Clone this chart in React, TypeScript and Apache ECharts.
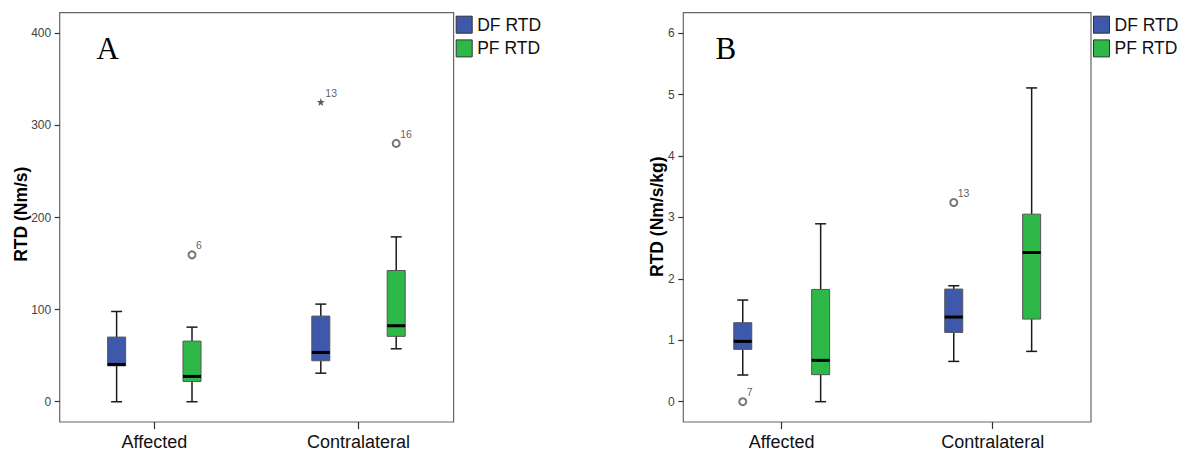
import React, { useEffect, useRef } from 'react';
import * as echarts from 'echarts';

const categories = ['Affected', 'Contralateral'];
const seriesNames = ['DF RTD', 'PF RTD'];
const seriesColors = ['#3e58ac', '#2eb848'];

// Panel A: RTD (Nm/s) — [min, Q1, median, Q3, max] for Affected, Contralateral
const dfRtdAbs = [
  [0, 39, 40.5, 70.2, 98],
  [31, 44.5, 53.5, 93, 106],
];
const pfRtdAbs = [
  [0, 22, 27.5, 65.8, 81],
  [57.5, 71, 82.5, 142.5, 179],
];
// outliers: [category index, series index, value, case label, extreme(1) or not(0)]
const outliersAbs: any[] = [
  [0, 1, 159.5, '6', 0],
  [1, 0, 325.5, '13', 1],
  [1, 1, 280.5, '16', 0],
];
const ticksAbs = [0, 100, 200, 300, 400];

// Panel B: RTD (Nm/s/kg)
const dfRtdNorm = [
  [0.434, 0.852, 0.982, 1.286, 1.655],
  [0.656, 1.128, 1.378, 1.834, 1.888],
];
const pfRtdNorm = [
  [0, 0.44, 0.673, 1.828, 2.897],
  [0.819, 1.345, 2.43, 3.054, 5.11],
];
const outliersNorm: any[] = [
  [0, 0, 0, '7', 0],
  [1, 0, 3.244, '13', 0],
];
const ticksNorm = [0, 1, 2, 3, 4, 5, 6];

const SANS = 'Liberation Sans, Arial, sans-serif';
const SERIF = 'Liberation Serif, Times New Roman, serif';
const GROUP_OFFSET = 0.1846;
const STAR = 'path://M0,-10L2.35,-3.24L9.51,-3.09L3.8,1.24L5.88,8.09L0,4L-5.88,8.09L-3.8,1.24L-9.51,-3.09L-2.35,-3.24Z';

function buildOption() {
  const panels = [
    {
      grid: { left: 59.7, top: 12.7, width: 393.9, height: 409.3 },
      xMin: 0.5367, xMax: 2.4657, yMin: -22, yMax: 422.4,
      ticks: ticksAbs, stats: [dfRtdAbs, pfRtdAbs], outliers: outliersAbs,
      yName: 'RTD (Nm/s)', yNamePos: [20.8, 214.2],
      letter: 'A', letterPos: [96.5, 48.5],
      legendPos: [455.7, 15.7],
    },
    {
      grid: { left: 683.3, top: 12.7, width: 407.7, height: 409.3 },
      xMin: 0.5336, xMax: 2.4659, yMin: -0.331, yMax: 6.335,
      ticks: ticksNorm, stats: [dfRtdNorm, pfRtdNorm], outliers: outliersNorm,
      yName: 'RTD (Nm/s/kg)', yNamePos: [657.2, 216.7],
      letter: 'B', letterPos: [715.5, 48.8],
      legendPos: [1093, 15.7],
    },
  ];

  const grid: any[] = [];
  const xAxis: any[] = [];
  const yAxis: any[] = [];
  const series: any[] = [];
  const legend: any[] = [];
  const graphic: any[] = [];

  panels.forEach((p, pi) => {
    grid.push({ ...p.grid, show: true, borderColor: '#666', borderWidth: 1.2, backgroundColor: 'transparent' });
    xAxis.push({
      type: 'value', gridIndex: pi, min: p.xMin, max: p.xMax, position: 'bottom',
      axisLine: { show: false, onZero: false },
      splitLine: { show: false },
      axisTick: { show: true, customValues: [1, 2], length: 7, inside: false, lineStyle: { color: '#333', width: 1.2 } },
      axisLabel: {
        show: true, customValues: [1, 2], margin: 11,
        formatter: (v: number) => categories[Math.round(v) - 1] ?? '',
        fontSize: 18, color: '#111', fontFamily: SANS,
      },
    });
    yAxis.push({
      type: 'value', gridIndex: pi, min: p.yMin, max: p.yMax, position: 'left',
      axisLine: { show: false, onZero: false },
      splitLine: { show: false },
      axisTick: { show: true, customValues: p.ticks, length: 5, inside: false, lineStyle: { color: '#333', width: 1.2 } },
      axisLabel: {
        show: true, customValues: p.ticks, margin: 8.5,
        fontSize: 12, color: '#444', fontFamily: SANS,
      },
    });

    p.stats.forEach((stats, si) => {
      const off = si === 0 ? -GROUP_OFFSET : GROUP_OFFSET;
      series.push({
        type: 'custom',
        name: seriesNames[si],
        xAxisIndex: pi, yAxisIndex: pi,
        itemStyle: { color: seriesColors[si] },
        encode: { x: 0, y: [1, 2, 3, 4, 5] },
        data: stats.map((s, ci) => [ci + 1 + off, ...s]),
        renderItem: (params: any, api: any) => {
          const x = api.value(0);
          const lo = api.coord([x, api.value(1)]);
          const q1 = api.coord([x, api.value(2)]);
          const md = api.coord([x, api.value(3)]);
          const q3 = api.coord([x, api.value(4)]);
          const hi = api.coord([x, api.value(5)]);
          const half = 9;
          const cap = 5.5;
          const wStyle = { stroke: '#1a1a1a', lineWidth: 1.5 };
          return {
            type: 'group',
            children: [
              { type: 'line', shape: { x1: lo[0], y1: lo[1], x2: q1[0], y2: q1[1] }, style: wStyle },
              { type: 'line', shape: { x1: q3[0], y1: q3[1], x2: hi[0], y2: hi[1] }, style: wStyle },
              { type: 'line', shape: { x1: lo[0] - cap, y1: lo[1], x2: lo[0] + cap, y2: lo[1] }, style: wStyle },
              { type: 'line', shape: { x1: hi[0] - cap, y1: hi[1], x2: hi[0] + cap, y2: hi[1] }, style: wStyle },
              {
                type: 'rect',
                shape: { x: q3[0] - half, y: q3[1], width: half * 2, height: q1[1] - q3[1] },
                style: { fill: seriesColors[si], stroke: '#555', lineWidth: 1 },
              },
              { type: 'line', shape: { x1: md[0] - half, y1: md[1], x2: md[0] + half, y2: md[1] }, style: { stroke: '#000', lineWidth: 3 } },
            ],
          };
        },
      });
    });

    const labelStyle = {
      show: true, formatter: '{b}', position: [8.5, -5], align: 'left', verticalAlign: 'middle',
      fontSize: 10.5, color: '#333', fontFamily: SANS, textBorderWidth: 0,
    };
    series.push({
      type: 'scatter',
      name: 'Outliers',
      xAxisIndex: pi, yAxisIndex: pi,
      data: p.outliers.map((o: any[]) => ({
        name: o[3],
        value: [o[0] + 1 + (o[1] === 0 ? -GROUP_OFFSET : GROUP_OFFSET), o[2]],
        symbol: o[4] ? STAR : 'emptyCircle',
        symbolSize: o[4] ? 8 : 7,
        itemStyle: o[4] ? { color: '#333', borderWidth: 0 } : { color: '#555', borderColor: '#555', borderWidth: 1 },
        label: labelStyle,
      })),
      label: labelStyle,
    });

    legend.push({
      orient: 'vertical', left: p.legendPos[0], top: p.legendPos[1], padding: 0,
      itemWidth: 16, itemHeight: 17, itemGap: 5.7, selectedMode: false,
      data: seriesNames.map((n, i) => ({
        name: n, icon: 'rect',
        itemStyle: { color: seriesColors[i], borderColor: '#333', borderWidth: 1 },
      })),
      textStyle: { fontSize: 17.5, color: '#111', fontFamily: SANS, lineHeight: 17 },
      itemStyle: { borderColor: '#333', borderWidth: 1 },
    });

    graphic.push({
      type: 'text', x: p.yNamePos[0], y: p.yNamePos[1], rotation: Math.PI / 2,
      style: { text: p.yName, fontSize: 17.5, fontWeight: 'bold', fontFamily: SANS, fill: '#000', align: 'center', verticalAlign: 'middle' },
    });
    graphic.push({
      type: 'text', x: p.letterPos[0], y: p.letterPos[1],
      style: { text: p.letter, fontSize: 31, fontFamily: SERIF, fill: '#000', align: 'left', verticalAlign: 'middle' },
    });
  });

  return {
    animation: false,
    backgroundColor: '#fff',
    grid, xAxis, yAxis, series, legend, graphic,
  };
}

export default function App() {
  const ref = useRef<HTMLDivElement>(null);
  useEffect(() => {
    document.body.style.margin = '0';
    if (!ref.current) return;
    const chart = echarts.init(ref.current, undefined, { renderer: 'svg' });
    chart.setOption(buildOption() as any);
    return () => chart.dispose();
  }, []);
  return <div ref={ref} style={{ position: 'absolute', left: 0, top: 0, width: 1189, height: 455 }} />;
}
